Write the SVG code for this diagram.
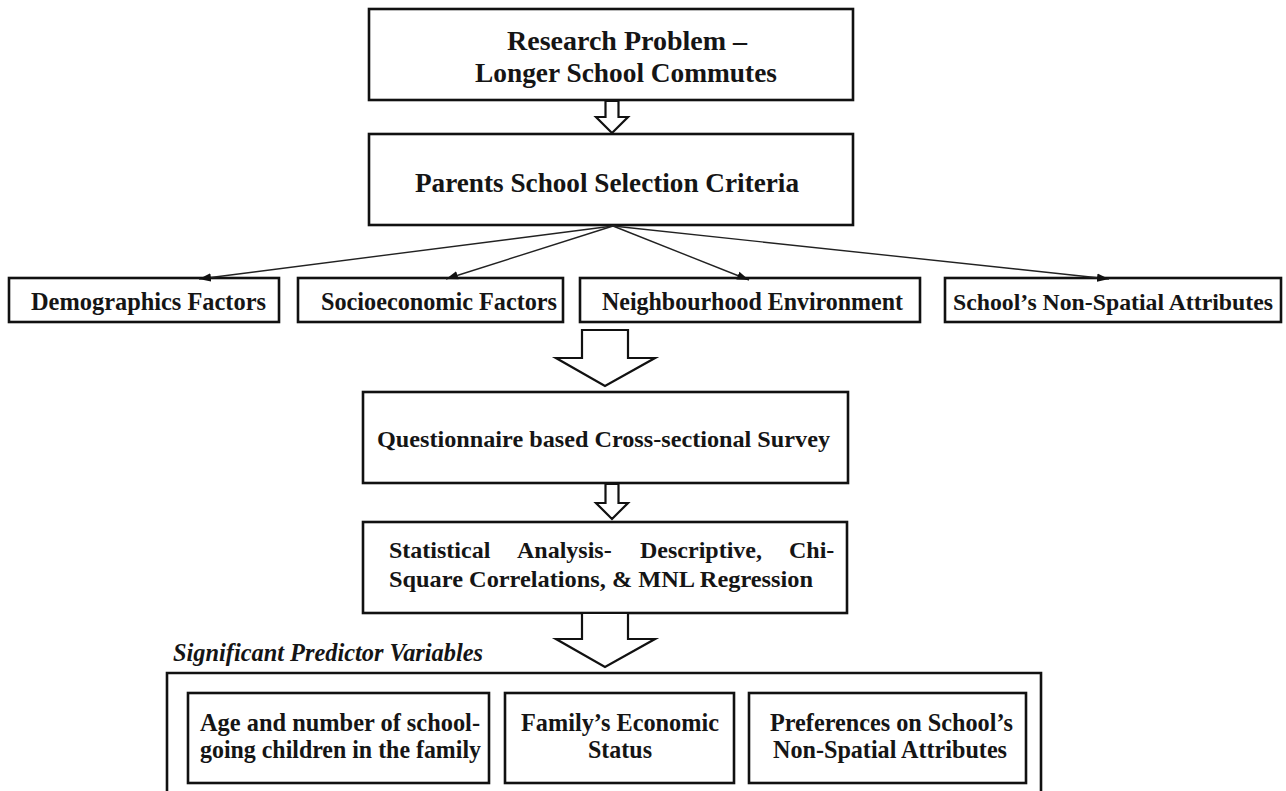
<svg xmlns="http://www.w3.org/2000/svg" width="1286" height="791" viewBox="0 0 1286 791">
<defs>
<style>
.box{fill:#fff;stroke:#111;stroke-width:2.6}
.t{font-family:"Liberation Serif","Times New Roman",serif;font-weight:bold;fill:#151515}
.big{font-size:27px}
.mid{font-size:24px}
.cond{font-size:26px}
.harrow{fill:#fff;stroke:#111;stroke-width:2.2;stroke-linejoin:miter}
.conn{stroke:#222;stroke-width:1.4;fill:none}
</style>
<marker id="ah" markerWidth="14" markerHeight="10" refX="12" refY="5" orient="auto" markerUnits="userSpaceOnUse">
<path d="M0,0.8 L12,5 L0,9.2 Z" fill="#111"/>
</marker>
</defs>
<rect width="1286" height="791" fill="#fff"/>

<g id="research-problem">
<rect class="box" x="369" y="9" width="484" height="91"/>
<text class="t big" x="507" y="50" textLength="240" lengthAdjust="spacingAndGlyphs">Research Problem –</text>
<text class="t big" x="475" y="82" textLength="302" lengthAdjust="spacingAndGlyphs">Longer School Commutes</text>
</g>

<g id="selection-criteria">
<rect class="box" x="369" y="134" width="484" height="91"/>
<text class="t big" x="415" y="192" textLength="384" lengthAdjust="spacingAndGlyphs">Parents School Selection Criteria</text>
</g>

<g id="demographics">
<rect class="box" x="9" y="278" width="270" height="44"/>
<text class="t cond" x="31" y="310" textLength="235" lengthAdjust="spacingAndGlyphs">Demographics Factors</text>
</g>
<g id="socioeconomic">
<rect class="box" x="298" y="278" width="265" height="44"/>
<text class="t cond" x="321" y="310" textLength="236" lengthAdjust="spacingAndGlyphs">Socioeconomic Factors</text>
</g>
<g id="neighbourhood">
<rect class="box" x="580" y="278" width="340" height="44"/>
<text class="t cond" x="602" y="310" textLength="301" lengthAdjust="spacingAndGlyphs">Neighbourhood Environment</text>
</g>
<g id="non-spatial">
<rect class="box" x="945" y="278" width="336" height="44"/>
<text class="t mid" x="953" y="310" textLength="320" lengthAdjust="spacingAndGlyphs">School’s Non-Spatial Attributes</text>
</g>

<g id="survey">
<rect class="box" x="363" y="392" width="485" height="91"/>
<text class="t mid" x="377" y="447" textLength="453" lengthAdjust="spacingAndGlyphs">Questionnaire based Cross-sectional Survey</text>
</g>

<g id="analysis">
<rect class="box" x="363" y="522" width="484" height="91"/>
<text class="t mid" y="558"><tspan x="389">Statistical</tspan><tspan x="517">Analysis-</tspan><tspan x="640">Descriptive,</tspan><tspan x="789">Chi-</tspan></text>
<text class="t mid" x="389" y="587" textLength="424" lengthAdjust="spacingAndGlyphs">Square Correlations, &amp; MNL Regression</text>
</g>

<g id="predictors">
<text class="t cond" x="173" y="661" font-style="italic" textLength="310" lengthAdjust="spacingAndGlyphs">Significant Predictor Variables</text>
<path d="M167,791 V673 H1041 V791" fill="none" stroke="#111" stroke-width="2.6"/>
</g>
<g id="age-children">
<rect class="box" x="188" y="693" width="301" height="90"/>
<text class="t cond" x="200" y="731" textLength="280" lengthAdjust="spacingAndGlyphs">Age and number of school-</text>
<text class="t cond" x="200" y="758" textLength="281" lengthAdjust="spacingAndGlyphs">going children in the family</text>
</g>
<g id="economic-status">
<rect class="box" x="505" y="693" width="229" height="90"/>
<text class="t cond" x="521" y="731" textLength="198" lengthAdjust="spacingAndGlyphs">Family’s Economic</text>
<text class="t cond" x="588" y="758" textLength="64" lengthAdjust="spacingAndGlyphs">Status</text>
</g>
<g id="preferences">
<rect class="box" x="749" y="693" width="277" height="90"/>
<text class="t cond" x="770" y="731" textLength="243" lengthAdjust="spacingAndGlyphs">Preferences on School’s</text>
<text class="t cond" x="773" y="758" textLength="234" lengthAdjust="spacingAndGlyphs">Non-Spatial Attributes</text>
</g>

<g id="connectors">
<path class="harrow" d="M605.5,101 H618.5 V117 H628 L612,133 L596,117 H605.5 Z"/>
<line class="conn" x1="613" y1="226" x2="199" y2="279" marker-end="url(#ah)"/>
<line class="conn" x1="613" y1="226" x2="446" y2="279" marker-end="url(#ah)"/>
<line class="conn" x1="613" y1="226" x2="749" y2="280" marker-end="url(#ah)"/>
<line class="conn" x1="613" y1="226" x2="1109" y2="279" marker-end="url(#ah)"/>
<path class="harrow" d="M582,330 H628 V358 H655 L605,386 L556,358 H582 Z"/>
<path class="harrow" d="M605.5,484 H618.5 V503 H628 L612,519 L596,503 H605.5 Z"/>
<path class="harrow" d="M582,613 H628 V639 H655 L605,667 L556,639 H582 Z"/>
</g>
</svg>
